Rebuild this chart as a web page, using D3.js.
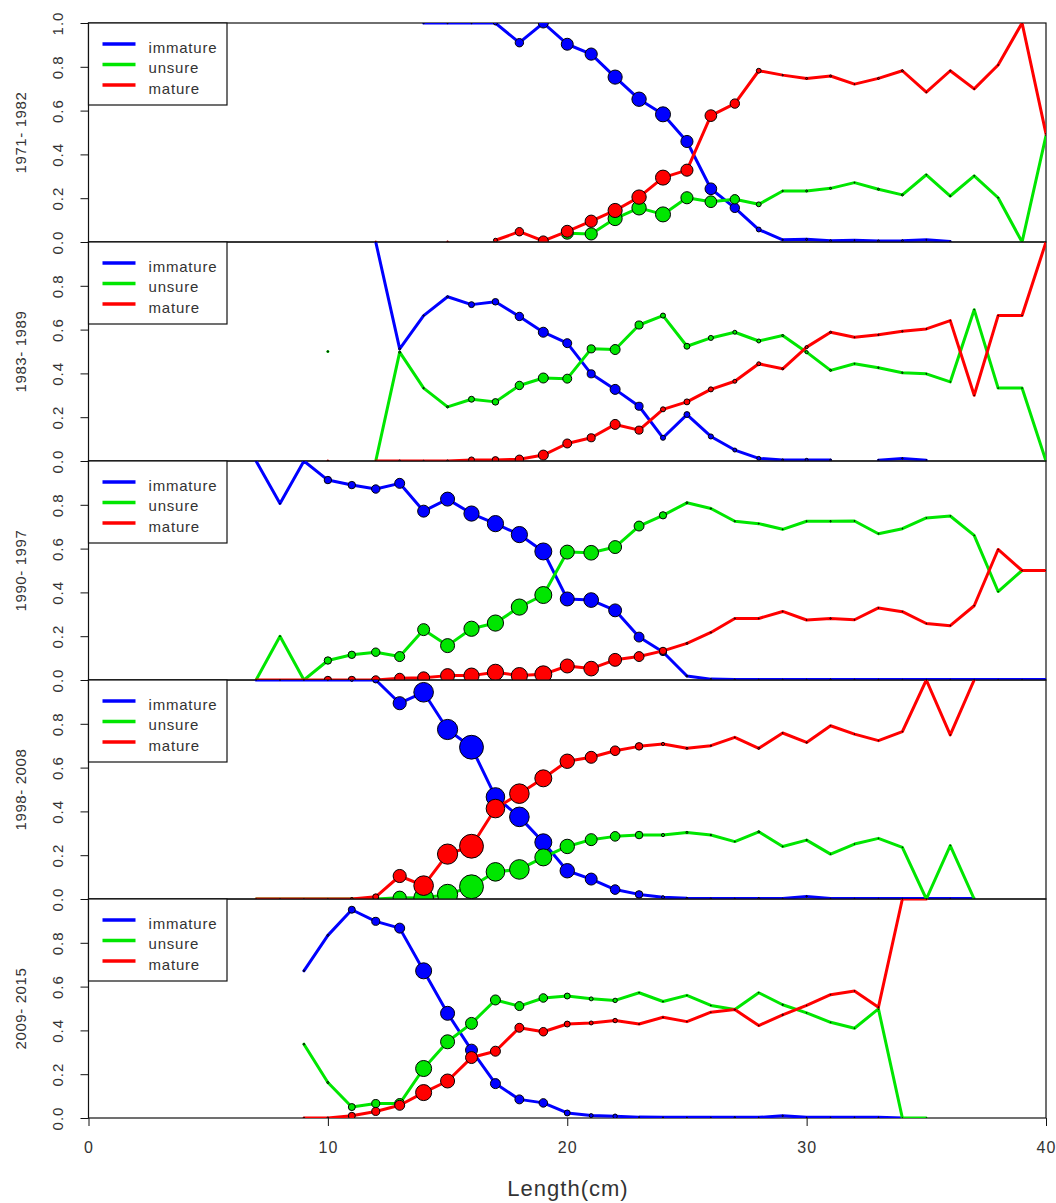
<!DOCTYPE html>
<html>
<head>
<meta charset="utf-8">
<script src="https://cdn.jsdelivr.net/npm/d3@7"></script>
<style>
  body { margin: 0; background: #fff; }
  text { font-family: "Liberation Sans", Arial, sans-serif; fill: #333; }
</style>
</head>
<body>
<svg id="chart" width="1056" height="1203"></svg>
<script>
// Data: proporsi tahap kematangan per panjang (cm), satu panel per periode
const periods = ["1971- 1982", "1983- 1989", "1990- 1997", "1998- 2008", "2009- 2015"];
const stages = ["immature", "unsure", "mature"];
const xTicks = [0, 10, 20, 30, 40];
// panjang pertama (cm) dari setiap array di bawah
const startLength = [12, 10, 7, 7, 9];

// 1971-1982 (L = 12..40)
const immature1 = [null, null, 1, 1, 1, 1, 0.91, 1.0, 0.903, 0.858, 0.753, 0.652, 0.583, 0.459, 0.243, 0.156, 0.057, 0.01, 0.012, 0.006, 0.008, 0.005, 0.006, 0.01, 0.002, null, null, null, null];
const unsure1 = [null, null, null, null, null, null, null, null, 0.04, 0.037, 0.107, 0.156, 0.126, 0.202, 0.184, 0.195, 0.172, 0.233, 0.233, 0.245, 0.271, 0.241, 0.215, 0.307, 0.21, 0.302, 0.202, 0, 0.486];
const mature1 = [0, null, null, 0, null, 0.008, 0.047, 0.005, 0.049, 0.095, 0.144, 0.205, 0.294, 0.328, 0.577, 0.632, 0.782, 0.762, 0.747, 0.758, 0.721, 0.747, 0.782, 0.684, 0.782, 0.699, 0.808, 1.0, 0.494];
const n1 = [0.5, 0, 1, 1, 1, 8, 36, 51, 73, 76, 102, 105, 115, 75, 70, 45, 12, 1, 2, 2, 0.5, 2, 2, 0.5, 1, 0.5, 0.5, 0.3, 0.3];

// 1983-1989 (L = 10..40)
const immature2 = [null, null, 1.0, 0.512, 0.664, 0.75, 0.714, 0.727, 0.66, 0.588, 0.538, 0.398, 0.327, 0.25, 0.106, 0.212, 0.112, 0.05, 0.012, 0.005, 0.005, 0.004, null, 0.004, 0.012, 0.004, null, null, null, null, null];
const unsure2 = [0.5, null, 0, 0.497, 0.333, 0.247, 0.282, 0.27, 0.345, 0.379, 0.376, 0.512, 0.509, 0.621, 0.664, 0.524, 0.562, 0.588, 0.548, 0.573, 0.497, 0.414, 0.444, 0.426, 0.403, 0.398, 0.361, 0.691, 0.333, 0.333, 0];
const mature2 = [0, null, 0, 0, 0, 0, 0.005, 0.005, 0.008, 0.027, 0.08, 0.106, 0.167, 0.141, 0.236, 0.27, 0.327, 0.364, 0.444, 0.421, 0.52, 0.588, 0.565, 0.576, 0.592, 0.603, 0.641, 0.3, 0.664, 0.664, 1.0];
const n2 = [1, 0, 0.5, 2, 1, 2, 18, 22, 36, 51, 41, 33, 51, 33, 13, 18, 13, 8, 8, 2, 5, 2, 0.5, 1, 1, 0.5, 0.3, 0.3, 0.3, 0.3, 0.3];

// 1990-1997 (L = 7..40)
const immature3 = [1.0, 0.806, 1.0, 0.913, 0.89, 0.872, 0.898, 0.771, 0.826, 0.76, 0.714, 0.664, 0.587, 0.37, 0.365, 0.318, 0.196, 0.128, 0.018, 0.004, 0.002, 0.002, 0.002, 0.002, 0.002, 0.002, 0.002, 0.002, 0.002, 0.002, 0.002, 0.002, 0.002, 0.002];
const unsure3 = [0, 0.2, 0, 0.089, 0.115, 0.127, 0.107, 0.23, 0.157, 0.234, 0.26, 0.333, 0.388, 0.584, 0.581, 0.607, 0.703, 0.752, 0.809, 0.783, 0.725, 0.714, 0.688, 0.725, 0.725, 0.726, 0.668, 0.691, 0.74, 0.749, 0.66, 0.404, 0.5, 0.5];
const mature3 = [0, 0, 0, 0, 0, 0, 0.008, 0.01, 0.02, 0.02, 0.035, 0.02, 0.026, 0.064, 0.052, 0.092, 0.107, 0.133, 0.167, 0.217, 0.281, 0.281, 0.313, 0.274, 0.281, 0.275, 0.329, 0.312, 0.258, 0.248, 0.339, 0.596, 0.5, 0.5];
const n3 = [0.3, 0.5, 0.5, 28, 28, 36, 51, 73, 100, 118, 134, 134, 147, 100, 110, 85, 50, 27, 2, 1, 0.8, 0.5, 0.5, 0.5, 1, 0.5, 0.5, 0.3, 0.3, 0.3, 0.3, 0.3, 0.3, 0.3];

// 1998-2008 (L = 7..40)
const immature4 = [1, 1, 1, 1, 1, 1, 0.894, 0.944, 0.774, 0.693, 0.466, 0.375, 0.259, 0.129, 0.091, 0.043, 0.021, 0.008, 0.003, 0.002, 0.002, 0.002, 0.002, 0.012, 0.002, 0.002, 0.002, 0.002, 0.002, 0.002, 0.002, null, null, null];
const unsure4 = [0, 0, 0, 0, 0, 0, 0.006, 0.005, 0.021, 0.056, 0.124, 0.135, 0.19, 0.24, 0.271, 0.286, 0.292, 0.292, 0.304, 0.292, 0.262, 0.307, 0.24, 0.269, 0.205, 0.251, 0.277, 0.236, 0, 0.244, 0, null, null, null];
const mature4 = [0, 0, 0, 0, 0, 0.01, 0.105, 0.061, 0.205, 0.241, 0.413, 0.481, 0.551, 0.629, 0.647, 0.677, 0.697, 0.708, 0.688, 0.7, 0.738, 0.688, 0.758, 0.715, 0.791, 0.753, 0.723, 0.764, 1.0, 0.749, 1.0, null, null, null];
const n4 = [0.3, 0.3, 0.3, 0.5, 4, 18, 88, 196, 208, 290, 176, 196, 147, 106, 73, 47, 29, 5, 2, 1, 0.5, 2, 0.5, 1, 0.3, 0.3, 0.3, 0.3, 0.3, 0.3, 0.3, 0, 0, 0];

// 2009-2015 (L = 9..40)
const immature5 = [0.672, 0.834, 0.951, 0.898, 0.867, 0.672, 0.478, 0.31, 0.157, 0.085, 0.069, 0.023, 0.011, 0.008, 0.004, 0.003, 0.003, 0.003, 0.003, 0.003, 0.01, 0.003, 0.003, 0.003, 0.003, 0, null, null, null, null, null, null];
const unsure5 = [0.337, 0.162, 0.05, 0.066, 0.066, 0.226, 0.348, 0.432, 0.539, 0.511, 0.548, 0.557, 0.544, 0.537, 0.572, 0.532, 0.56, 0.514, 0.495, 0.572, 0.517, 0.48, 0.437, 0.41, 0.498, 0, 0, null, null, null, null, null];
const mature5 = [0, 0, 0.01, 0.03, 0.058, 0.116, 0.169, 0.276, 0.305, 0.412, 0.394, 0.429, 0.434, 0.445, 0.429, 0.46, 0.44, 0.483, 0.495, 0.422, 0.471, 0.514, 0.563, 0.58, 0.506, 1.0, 1.0, null, null, null, null, null];
const n5 = [1.3, 2, 25, 33, 51, 131, 100, 73, 51, 41, 37, 18, 8, 10, 0.5, 0.5, 0.3, 0.3, 1, 0.3, 1, 0.3, 0.3, 0.3, 0.5, 0.3, 0.3, 0, 0, 0, 0, 0];

const panels = [
    { series: [immature1, unsure1, mature1], n: n1 },
    { series: [immature2, unsure2, mature2], n: n2 },
    { series: [immature3, unsure3, mature3], n: n3 },
    { series: [immature4, unsure4, mature4], n: n4 },
    { series: [immature5, unsure5, mature5], n: n5 },
];

const colors = ["#0000ff", "#00e600", "#ff0000"];
const svg = d3.select("#chart");

// Dimensi plot
const top0 = 23;
const panelH = 219;
const x = d3.scaleLinear().domain([0, 40]).range([88.5, 1046]);
const rScale = d3.scaleSqrt().domain([0, 100]).range([0, 7]);

svg.append("rect").attr("width", 1056).attr("height", 1203).attr("fill", "#fff");

panels.forEach((p, i) => {
    const top = top0 + i * panelH;
    const y = d3.scaleLinear().domain([0, 1]).range([top + panelH, top]);
    const start = startLength[i];

    svg.append("clipPath")
        .attr("id", "clip" + i)
        .append("rect")
        .attr("x", x(0))
        .attr("y", top)
        .attr("width", x(40) - x(0))
        .attr("height", panelH);

    // Sumbu Y
    const ticks = i === 0 ? [0, 0.2, 0.4, 0.6, 0.8, 1.0] : [0, 0.2, 0.4, 0.6, 0.8];
    const yAxis = svg.append("g")
        .attr("transform", `translate(${x(0)},0)`)
        .call(d3.axisLeft(y).tickValues(ticks).tickSize(8).tickFormat(d3.format(".1f")));
    yAxis.select(".domain").remove();
    yAxis.selectAll("line").attr("stroke", "#111");
    yAxis.selectAll("text")
        .attr("x", 0)
        .attr("dy", null)
        .attr("text-anchor", "middle")
        .attr("dominant-baseline", "central")
        .attr("transform", "translate(-31,0) rotate(-90)")
        .style("font-size", "15px")
        .style("letter-spacing", "1px")
        .style("fill", "#333");

    // Label periode
    svg.append("text")
        .attr("transform", `translate(20,${top + panelH / 2}) rotate(-90)`)
        .attr("text-anchor", "middle")
        .attr("dominant-baseline", "central")
        .style("font-size", "15px")
        .style("letter-spacing", "0.6px")
        .text(periods[i]);

    // Kotak panel
    svg.append("rect")
        .attr("x", x(0))
        .attr("y", top)
        .attr("width", x(40) - x(0))
        .attr("height", panelH)
        .attr("fill", "none")
        .attr("stroke", "#111")
        .attr("stroke-width", 1.2);

    // Legenda
    const lg = svg.append("g").attr("transform", `translate(${x(0)},${top})`);
    lg.append("rect")
        .attr("width", 138.5)
        .attr("height", 82)
        .attr("fill", "#fff")
        .attr("stroke", "#111")
        .attr("stroke-width", 1.2);
    stages.forEach((s, k) => {
        const ly = 21 + k * 20.5;
        lg.append("line")
            .attr("x1", 14).attr("x2", 47)
            .attr("y1", ly).attr("y2", ly)
            .attr("stroke", colors[k])
            .attr("stroke-width", 3.5);
        lg.append("text")
            .attr("x", 60)
            .attr("y", ly + 3)
            .attr("dominant-baseline", "central")
            .style("font-size", "15px")
            .style("letter-spacing", "0.8px")
            .text(s);
    });

    // Garis dan titik
    const plot = svg.append("g").attr("clip-path", `url(#clip${i})`);
    const line = d3.line()
        .defined((d) => d.v !== null)
        .x((d) => x(d.len))
        .y((d) => y(d.v));

    p.series.forEach((vals, k) => {
        const pts = vals.map((v, j) => ({ len: start + j, v: v, n: p.n[j] }));
        plot.append("path")
            .datum(pts)
            .attr("fill", "none")
            .attr("stroke", colors[k])
            .attr("stroke-width", 3)
            .attr("stroke-linejoin", "round")
            .attr("stroke-linecap", "round")
            .attr("d", line);
        plot.selectAll(null)
            .data(pts.filter((d) => d.v !== null && d.n > 0))
            .enter()
            .append("circle")
            .attr("cx", (d) => x(d.len))
            .attr("cy", (d) => y(d.v))
            .attr("r", (d) => rScale(d.n))
            .attr("fill", colors[k])
            .attr("stroke", "#000")
            .attr("stroke-width", 1);
    });

    // Sumbu X hanya pada panel terbawah
    if (i === panels.length - 1) {
        const xAxis = svg.append("g")
            .attr("transform", `translate(0,${top + panelH})`)
            .call(d3.axisBottom(x).tickValues(xTicks).tickSize(8).tickPadding(16));
        xAxis.select(".domain").remove();
        xAxis.selectAll("line").attr("stroke", "#111");
        xAxis.selectAll("text")
            .style("font-size", "16px")
            .style("letter-spacing", "1px")
            .style("fill", "#333");
    }
});

// Judul sumbu X
svg.append("text")
    .attr("x", 568)
    .attr("y", 1188)
    .attr("text-anchor", "middle")
    .attr("dominant-baseline", "central")
    .style("font-size", "22px")
    .style("letter-spacing", "1px")
    .text("Length(cm)");
</script>
</body>
</html>
